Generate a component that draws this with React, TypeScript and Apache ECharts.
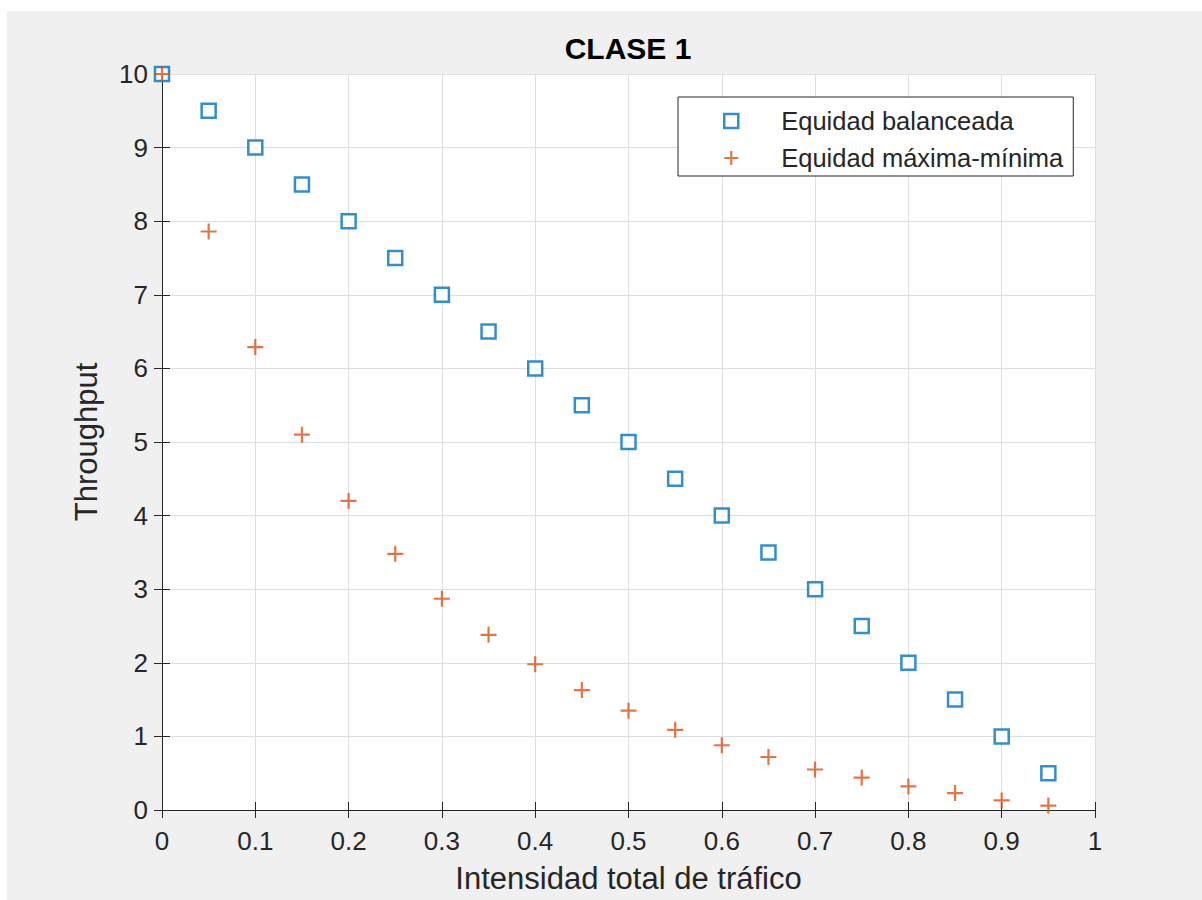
import React, { useEffect, useRef } from "react";
import * as echarts from "echarts";

const titleText = "CLASE 1";
const xName = "Intensidad total de tráfico";
const yName = "Throughput";
const seriesNames = ["Equidad balanceada", "Equidad máxima-mínima"];
const xValues = [0, 0.05, 0.1, 0.15, 0.2, 0.25, 0.3, 0.35, 0.4, 0.45, 0.5, 0.55, 0.6, 0.65, 0.7, 0.75, 0.8, 0.85, 0.9, 0.95];
const balanced = [10, 9.5, 9, 8.5, 8, 7.5, 7, 6.5, 6, 5.5, 5, 4.5, 4, 3.5, 3, 2.5, 2, 1.5, 1, 0.5];
const maxMin = [10, 7.86, 6.29, 5.1, 4.2, 3.48, 2.87, 2.38, 1.98, 1.63, 1.35, 1.09, 0.88, 0.72, 0.55, 0.44, 0.32, 0.23, 0.13, 0.06];

const FONT = "'Liberation Sans', Arial, Helvetica, sans-serif";
const AX = "#262626";
const BLUE = "#0072BD";
const ORANGE = "#D95319";
const PLUS = "path://M5,0L5,10M0,5L10,5";
const SQUARE = "path://M0,0L10,0L10,10L0,10Z";

export default function App() {
  const ref = useRef<HTMLDivElement>(null);
  useEffect(() => {
    document.body.style.overflow = "hidden";
    const chart = echarts.init(ref.current!, null, { renderer: "svg" });
    const axisCommon = {
      type: "value" as const,
      axisLine: { show: true, lineStyle: { color: AX, width: 1 } },
      axisTick: { show: true, inside: true, length: 8, lineStyle: { color: AX } },
    };
    chart.setOption({
      animation: false,
      backgroundColor: "#f0f0f0",
      textStyle: { fontFamily: FONT },
      title: {
        text: titleText,
        left: 621,
        top: 22,
        padding: 0,
        textAlign: "center",
        textStyle: { fontFamily: FONT, fontSize: 30, fontWeight: "bold", color: "#000" },
      },
      grid: {
        left: 155,
        top: 63,
        right: 107,
        bottom: 90,
        show: true,
        backgroundColor: "#ffffff",
        borderWidth: 0,
        containLabel: false,
      },
      legend: {
        orient: "vertical",
        left: 671,
        top: 86,
        padding: [11, 10, 5, 45],
        itemWidth: 90,
        itemHeight: 14,
        itemGap: 11,
        backgroundColor: "#ffffff",
        borderColor: AX,
        borderWidth: 1,
        borderRadius: 0,
        textStyle: { fontFamily: FONT, fontSize: 25.5, color: AX },
        data: [
          { name: seriesNames[0], icon: SQUARE, itemStyle: { color: "#ffffff", borderColor: BLUE, borderWidth: 2.5 } },
          { name: seriesNames[1], icon: PLUS, itemStyle: { color: "transparent", borderColor: ORANGE, borderWidth: 2.2 } },
        ],
      },
      xAxis: [
        {
          ...axisCommon,
          position: "bottom",
          min: 0,
          max: 1,
          interval: 0.1,
          name: xName,
          nameLocation: "middle",
          nameGap: 53,
          nameTextStyle: { fontFamily: FONT, fontSize: 31, color: AX },
          axisLabel: { fontFamily: FONT, fontSize: 26, color: AX, margin: 18 },
          splitLine: { show: true, lineStyle: { color: "#dfdfdf", width: 1 } },
        },
        {
          ...axisCommon,
          position: "top",
          min: 0,
          max: 1,
          interval: 0.1,
          axisLabel: { show: false },
          splitLine: { show: false },
        },
      ],
      yAxis: [
        {
          ...axisCommon,
          position: "left",
          min: 0,
          max: 10,
          interval: 1,
          name: yName,
          nameLocation: "middle",
          nameGap: 60,
          nameTextStyle: { fontFamily: FONT, fontSize: 31, color: AX },
          axisLabel: { fontFamily: FONT, fontSize: 26, color: AX, margin: 14 },
          splitLine: { show: true, lineStyle: { color: "#dfdfdf", width: 1 } },
        },
        {
          ...axisCommon,
          position: "right",
          min: 0,
          max: 10,
          interval: 1,
          axisLabel: { show: false },
          splitLine: { show: false },
        },
      ],
      series: [
        {
          name: seriesNames[0],
          type: "scatter",
          xAxisIndex: 0,
          yAxisIndex: 0,
          symbol: "rect",
          symbolSize: 14,
          clip: false,
          itemStyle: { color: "#ffffff", borderColor: BLUE, borderWidth: 2.5 },
          data: xValues.map((x, i) => [x, balanced[i]]),
          z: 3,
        },
        {
          name: seriesNames[1],
          type: "scatter",
          xAxisIndex: 0,
          yAxisIndex: 0,
          symbol: PLUS,
          symbolSize: 16,
          clip: false,
          itemStyle: { color: "transparent", borderColor: ORANGE, borderWidth: 2.2 },
          data: xValues.map((x, i) => [x, maxMin[i]]),
          z: 4,
        },
      ],
    });
    return () => chart.dispose();
  }, []);
  return (
    <div
      ref={ref}
      style={{ position: "absolute", left: 7, top: 11, width: 1195, height: 889 }}
    />
  );
}
